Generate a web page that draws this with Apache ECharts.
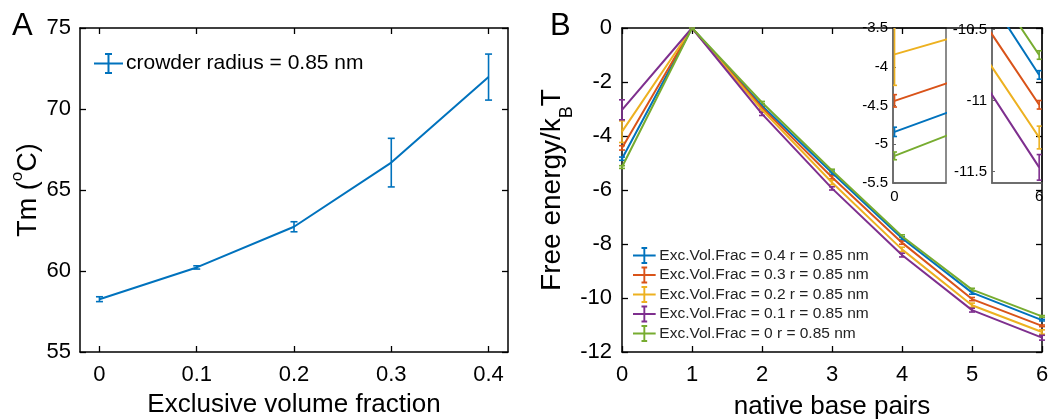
<!DOCTYPE html>
<html>
<head>
    <meta charset="utf-8">
    <title>Tm and free energy</title>
    <script src="https://cdn.jsdelivr.net/npm/echarts@6/dist/echarts.min.js"></script>
    <style>
        body { margin: 0; background: #fff; }
    </style>
</head>
<body>
    <div id="main" style="width: 1050px; height: 420px;"></div>

    <script>
        // panel A: melting temperature vs excluded volume fraction
        var fracA = [0, 0.1, 0.2, 0.3, 0.4]
        var tmA = [58.26, 60.22, 62.73, 66.69, 71.97]
        var tmErr = [0.15, 0.1, 0.31, 1.5, 1.42]
        var fracTicks = [0, 0.1, 0.2, 0.3, 0.4]

        // panel B: free energy vs native base pairs
        var basePairs = [0, 1, 2, 3, 4, 5, 6]
        var names = [
            'Exc.Vol.Frac = 0.4 r = 0.85 nm',
            'Exc.Vol.Frac = 0.3 r = 0.85 nm',
            'Exc.Vol.Frac = 0.2 r = 0.85 nm',
            'Exc.Vol.Frac = 0.1 r = 0.85 nm',
            'Exc.Vol.Frac = 0 r = 0.85 nm'
        ]
        var fe04 = [-4.84, 0, -2.88, -5.36, -7.79, -9.80, -10.82]
        var fe03 = [-4.44, 0, -2.95, -5.53, -7.95, -10.04, -11.03]
        var fe02 = [-3.84, 0, -3.03, -5.72, -8.20, -10.27, -11.26]
        var fe01 = [-3.03, 0, -3.18, -5.94, -8.41, -10.45, -11.47]
        var fe00 = [-5.15, 0, -2.76, -5.28, -7.71, -9.69, -10.68]
        var err04 = [0.06, 0, 0.05, 0.06, 0.06, 0.06, 0.03]
        var err03 = [0.08, 0, 0.05, 0.06, 0.06, 0.06, 0.03]
        var err02 = [0.40, 0, 0.06, 0.08, 0.08, 0.08, 0.08]
        var err01 = [0.37, 0, 0.06, 0.06, 0.07, 0.07, 0.09]
        var err00 = [0.05, 0, 0.04, 0.05, 0.05, 0.05, 0.03]
        var inset2Ticks = [-11.5, -11, -10.5]

        var feList = [fe04, fe03, fe02, fe01, fe00]
        var errList = [err04, err03, err02, err01, err00]
        var colors = ['#0072BD', '#D95319', '#EDB120', '#7E2F8E', '#77AC30']

        var font = 'Liberation Sans, Arial, Helvetica, sans-serif'
        var black = '#000'

        var errData = function(xs, ys, es) {
            var out = []
            for (var i = 0; i < xs.length; i++) {
                out.push([xs[i], ys[i] - es[i], ys[i] + es[i]])
            }
            return out
        }

        var pairs = function(xs, ys) {
            var out = []
            for (var i = 0; i < xs.length; i++) {
                out.push([xs[i], ys[i]])
            }
            return out
        }

        // error bar drawn via the axis scale
        var errRender = function(cap) {
            return function(params, api) {
                var x = api.value(0)
                var lo = api.coord([x, api.value(1)])
                var hi = api.coord([x, api.value(2)])
                var style = { stroke: api.visual('color'), lineWidth: 1.6 }
                return {
                    type: 'group',
                    children: [
                        { type: 'line', shape: { x1: lo[0], y1: lo[1], x2: hi[0], y2: hi[1] }, style: style },
                        { type: 'line', shape: { x1: lo[0] - cap, y1: lo[1], x2: lo[0] + cap, y2: lo[1] }, style: style },
                        { type: 'line', shape: { x1: hi[0] - cap, y1: hi[1], x2: hi[0] + cap, y2: hi[1] }, style: style }
                    ]
                }
            }
        }

        var mainLine = { show: true, onZero: false, lineStyle: { color: black, width: 1.5 } }
        var insetLine = { show: true, onZero: false, lineStyle: { color: '#666', width: 1.5 } }
        var tickIn = { show: true, inside: true, length: 6, lineStyle: { color: black, width: 1.3 } }

        var xAxes = [
            // A bottom
            {
                gridIndex: 0, type: 'value', min: -0.02, max: 0.42, position: 'bottom',
                axisLine: mainLine,
                axisTick: { show: true, inside: true, length: 6, lineStyle: { color: black, width: 1.3 }, customValues: fracTicks },
                axisLabel: { color: black, fontSize: 22, fontFamily: font, margin: 12, customValues: fracTicks },
                splitLine: { show: false },
                name: 'Exclusive volume fraction', nameLocation: 'middle', nameGap: 40,
                nameTextStyle: { color: black, fontSize: 26, fontFamily: font }
            },
            // A top
            {
                gridIndex: 0, type: 'value', min: -0.02, max: 0.42, position: 'top',
                axisLine: mainLine,
                axisTick: { show: true, inside: true, length: 6, lineStyle: { color: black, width: 1.3 }, customValues: fracTicks },
                axisLabel: { show: false },
                splitLine: { show: false }
            },
            // B bottom
            {
                gridIndex: 1, type: 'value', min: 0, max: 6, interval: 1, position: 'bottom',
                axisLine: mainLine, axisTick: tickIn,
                axisLabel: { color: black, fontSize: 22, fontFamily: font, margin: 12 },
                splitLine: { show: false },
                name: 'native base pairs', nameLocation: 'middle', nameGap: 42,
                nameTextStyle: { color: black, fontSize: 26, fontFamily: font }
            },
            // B top
            {
                gridIndex: 1, type: 'value', min: 0, max: 6, interval: 1, position: 'top',
                axisLine: mainLine, axisTick: tickIn,
                axisLabel: { show: false }, splitLine: { show: false }
            },
            // inset near 0
            {
                gridIndex: 2, type: 'value', min: -0.0015, max: 0.05, position: 'bottom',
                axisLine: insetLine,
                axisTick: { show: false },
                axisLabel: { color: black, fontSize: 15, fontFamily: font, margin: 6, customValues: [0] },
                splitLine: { show: false }
            },
            // inset near 6
            {
                gridIndex: 3, type: 'value', min: 5.5, max: 6.03, position: 'bottom',
                axisLine: insetLine,
                axisTick: { show: false },
                axisLabel: { color: black, fontSize: 15, fontFamily: font, margin: 6, customValues: [6] },
                splitLine: { show: false }
            }
        ]

        var yAxes = [
            // A left
            {
                gridIndex: 0, type: 'value', min: 55, max: 75, interval: 5, position: 'left',
                axisLine: mainLine, axisTick: tickIn,
                axisLabel: { color: black, fontSize: 22, fontFamily: font, margin: 9 },
                splitLine: { show: false },
                name: '{a|Tm (}{s|o}{a|C)}', nameLocation: 'middle', nameRotate: 90, nameGap: 31,
                nameTextStyle: {
                    rich: {
                        a: { color: black, fontSize: 27, fontFamily: font, lineHeight: 40 },
                        s: { color: black, fontSize: 17, fontFamily: font, verticalAlign: 'top' }
                    }
                }
            },
            // A right
            {
                gridIndex: 0, type: 'value', min: 55, max: 75, interval: 5, position: 'right',
                axisLine: mainLine, axisTick: tickIn,
                axisLabel: { show: false }, splitLine: { show: false }
            },
            // B left
            {
                gridIndex: 1, type: 'value', min: -12, max: 0, interval: 2, position: 'left',
                axisLine: mainLine, axisTick: tickIn,
                axisLabel: { color: black, fontSize: 22, fontFamily: font, margin: 10 },
                splitLine: { show: false },
                name: '{a|Free energy/k}{b|B}{a|T}', nameLocation: 'middle', nameRotate: 90, nameGap: 45,
                nameTextStyle: {
                    rich: {
                        a: { color: black, fontSize: 28, fontFamily: font, lineHeight: 48 },
                        b: { color: black, fontSize: 18, fontFamily: font, verticalAlign: 'bottom' }
                    }
                }
            },
            // B right
            {
                gridIndex: 1, type: 'value', min: -12, max: 0, interval: 2, position: 'right',
                axisLine: mainLine, axisTick: tickIn,
                axisLabel: { show: false }, splitLine: { show: false }
            },
            // inset near 0
            {
                gridIndex: 2, type: 'value', min: -5.5, max: -3.5, interval: 0.5, position: 'left',
                axisLine: insetLine,
                axisTick: { show: true, inside: true, length: 3, lineStyle: { color: '#666' } },
                axisLabel: { color: black, fontSize: 15, fontFamily: font, margin: 5 },
                splitLine: { show: false }
            },
            // inset near 6
            {
                gridIndex: 3, type: 'value', min: -11.58, max: -10.49, position: 'left',
                axisLine: insetLine,
                axisTick: { show: true, inside: true, length: 3, lineStyle: { color: '#666' }, customValues: inset2Ticks },
                axisLabel: { color: black, fontSize: 15, fontFamily: font, margin: 5, customValues: inset2Ticks },
                splitLine: { show: false }
            }
        ]

        var series = []

        // panel A
        series.push({
            name: 'crowder radius = 0.85 nm',
            type: 'line',
            xAxisIndex: 0, yAxisIndex: 0,
            data: pairs(fracA, tmA),
            showSymbol: false,
            color: '#0072BD',
            lineStyle: { color: '#0072BD', width: 2 }
        })
        series.push({
            type: 'custom',
            xAxisIndex: 0, yAxisIndex: 0,
            data: errData(fracA, tmA, tmErr),
            encode: { x: 0, y: [1, 2] },
            itemStyle: { color: '#0072BD' },
            renderItem: errRender(3.5)
        })

        // panel B + insets: [xAxisIndex, yAxisIndex, cap half width, clip]
        var places = [[2, 2, 3, false], [4, 4, 2.5, true], [5, 5, 2.5, true]]
        for (var p = 0; p < places.length; p++) {
            var place = places[p]
            for (var k = 0; k < feList.length; k++) {
                var line = {
                    type: 'line',
                    xAxisIndex: place[0], yAxisIndex: place[1],
                    data: pairs(basePairs, feList[k]),
                    showSymbol: false,
                    color: colors[k],
                    lineStyle: { color: colors[k], width: 2 },
                    clip: true,
                    z: 3
                }
                if (p === 0) {
                    line.name = names[k]
                }
                series.push(line)
                series.push({
                    type: 'custom',
                    xAxisIndex: place[0], yAxisIndex: place[1],
                    data: errData(basePairs, feList[k], errList[k]),
                    encode: { x: 0, y: [1, 2] },
                    itemStyle: { color: colors[k] },
                    clip: place[3],
                    renderItem: errRender(place[2]),
                    z: 3
                })
            }
        }

        var iconA = 'path://M0,9.5H29V11.5H0Z M13.5,1H15.5V20H13.5Z M11,0H18V2H11Z M11,19H18V21H11Z'
        var iconB = 'path://M0,8H24V10H0Z M11,1H13V17H11Z M9,0H15V2H9Z M9,16H15V18H9Z'

        var option = {
            animation: false,
            backgroundColor: '#fff',
            title: [
                { text: 'A', left: 7, top: 6, textStyle: { color: black, fontSize: 31, fontWeight: 'normal', fontFamily: font } },
                { text: 'B', left: 545, top: 6, textStyle: { color: black, fontSize: 31, fontWeight: 'normal', fontFamily: font } }
            ],
            legend: [
                {
                    data: ['crowder radius = 0.85 nm'],
                    left: 94, top: 53,
                    icon: iconA,
                    itemWidth: 29, itemHeight: 21,
                    padding: 0,
                    textStyle: { color: black, fontSize: 21, fontFamily: font, padding: [0, 0, 0, -2] }
                },
                {
                    data: names,
                    orient: 'vertical',
                    left: 633, top: 247,
                    icon: iconB,
                    itemWidth: 24, itemHeight: 17,
                    itemGap: 2.5,
                    padding: 0,
                    textStyle: { color: '#222', fontSize: 15.5, fontFamily: font, padding: [0, 0, 0, -2] }
                }
            ],
            grid: [
                { left: 80, top: 28, width: 428, height: 324, outerBoundsMode: 'none' },
                { left: 622, top: 28, width: 420, height: 324, outerBoundsMode: 'none' },
                { left: 893, top: 28, width: 53, height: 155, outerBoundsMode: 'none', show: true, backgroundColor: '#fff', borderColor: '#666', borderWidth: 1.5 },
                { left: 992, top: 28, width: 50, height: 155, outerBoundsMode: 'none', show: true, backgroundColor: '#fff', borderColor: '#666', borderWidth: 1.5 }
            ],
            xAxis: xAxes,
            yAxis: yAxes,
            series: series
        }

        var myChart = echarts.init(document.querySelector('#main'))
        myChart.setOption(option)
    </script>
</body>
</html>
